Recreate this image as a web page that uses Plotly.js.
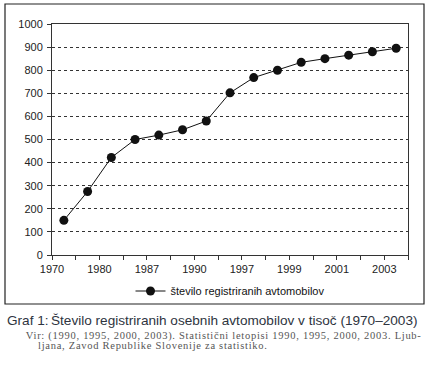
<!DOCTYPE html>
<html>
<head>
<meta charset="utf-8">
<script src="https://cdn.plot.ly/plotly-3.0.1.min.js"></script>
<style>
html,body{margin:0;padding:0;background:#fff;}
#chart{width:430px;height:371px;}
#chart g.annotation[data-index="2"] text,
#chart g.annotation[data-index="3"] text{letter-spacing:0.72px;}
</style>
</head>
<body>
<div id="chart"></div>
<script>
// Data (thousands of registered passenger cars)
const values = [150, 275, 422, 500, 519, 542, 580, 702, 768, 800, 834, 850, 865, 880, 895];
const tickLabels = ['1970', '1980', '1987', '1990', '1997', '1999', '2001', '2003'];
const seriesName = 'število registriranih avtomobilov';
const captionLabel = 'Graf 1:';
const captionTitle = 'Število registriranih osebnih avtomobilov v tisoč (1970–2003)';
const sourceLine1 = 'Vir: (1990, 1995, 2000, 2003). Statistični letopisi 1990, 1995, 2000, 2003. Ljub-';
const sourceLine2 = 'ljana, Zavod Republike Slovenije za statistiko.';

const xPos = values.map((v, i) => i + 0.5);
const tickVals = [];
const tickText = [];
for (let i = 0; i <= values.length; i++) {
  tickVals.push(i);
  tickText.push(i % 2 === 0 ? (tickLabels[i / 2] || '') : '');
}

const trace = {
  x: xPos,
  y: values,
  type: 'scatter',
  mode: 'lines+markers',
  name: seriesName,
  line: {color: '#111', width: 1},
  marker: {color: '#111', size: 9, symbol: 'circle'},
  hoverinfo: 'y'
};

const W = 356, H = 231;
function px(x) { return (x - 52) / W; }
function py(y) { return (255 - y) / H; }

const layout = {
  width: 430,
  height: 371,
  margin: {l: 52, r: 22, t: 24, b: 116},
  paper_bgcolor: '#fff',
  plot_bgcolor: '#fff',
  font: {family: 'Liberation Sans, Arial, sans-serif', size: 11, color: '#222'},
  showlegend: true,
  legend: {
    orientation: 'h',
    x: 0.5, xanchor: 'center',
    y: py(291), yanchor: 'middle',
    font: {size: 11, color: '#111'},
    bgcolor: 'rgba(0,0,0,0)'
  },
  xaxis: {
    range: [0, values.length],
    tickmode: 'array',
    tickvals: tickVals,
    ticktext: tickText,
    ticks: 'outside',
    ticklen: 4,
    tickcolor: '#333',
    tickfont: {size: 11, color: '#222'},
    showgrid: false,
    zeroline: false,
    showline: true,
    linecolor: '#333',
    linewidth: 1,
    mirror: true,
    fixedrange: true
  },
  yaxis: {
    range: [0, 1000],
    dtick: 100,
    ticks: 'outside',
    ticklen: 4,
    tickcolor: '#333',
    tickfont: {size: 11, color: '#222'},
    showgrid: true,
    gridcolor: '#333',
    gridwidth: 1,
    griddash: 'dot',
    zeroline: false,
    showline: true,
    linecolor: '#333',
    linewidth: 1,
    mirror: true,
    ticklabelstandoff: 2,
    fixedrange: true
  },
  shapes: [{
    type: 'rect', xref: 'paper', yref: 'paper',
    x0: px(5), x1: px(424), y0: py(304), y1: py(4),
    line: {color: '#222', width: 1.2},
    fillcolor: 'rgba(0,0,0,0)', layer: 'below'
  }],
  annotations: [
    {text: captionLabel, xref: 'paper', yref: 'paper', x: px(5), y: py(321),
     xanchor: 'left', yanchor: 'middle', showarrow: false,
     font: {family: 'Liberation Sans, Arial, sans-serif', size: 13.6, color: '#2e3440'}},
    {text: captionTitle, xref: 'paper', yref: 'paper', x: px(49), y: py(321),
     xanchor: 'left', yanchor: 'middle', showarrow: false,
     font: {family: 'Liberation Sans, Arial, sans-serif', size: 13.6, color: '#2e3440'}},
    {text: sourceLine1, xref: 'paper', yref: 'paper', x: px(53), y: py(335.5),
     xanchor: 'left', yanchor: 'middle', showarrow: false,
     font: {family: 'Liberation Serif, serif', size: 10.5, color: '#555'}},
    {text: sourceLine2, xref: 'paper', yref: 'paper', x: px(53), y: py(345.5),
     xanchor: 'left', yanchor: 'middle', showarrow: false,
     font: {family: 'Liberation Serif, serif', size: 10.5, color: '#555'}}
  ]
};

Plotly.newPlot('chart', [trace], layout, {displayModeBar: false, staticPlot: true});
</script>
</body>
</html>
